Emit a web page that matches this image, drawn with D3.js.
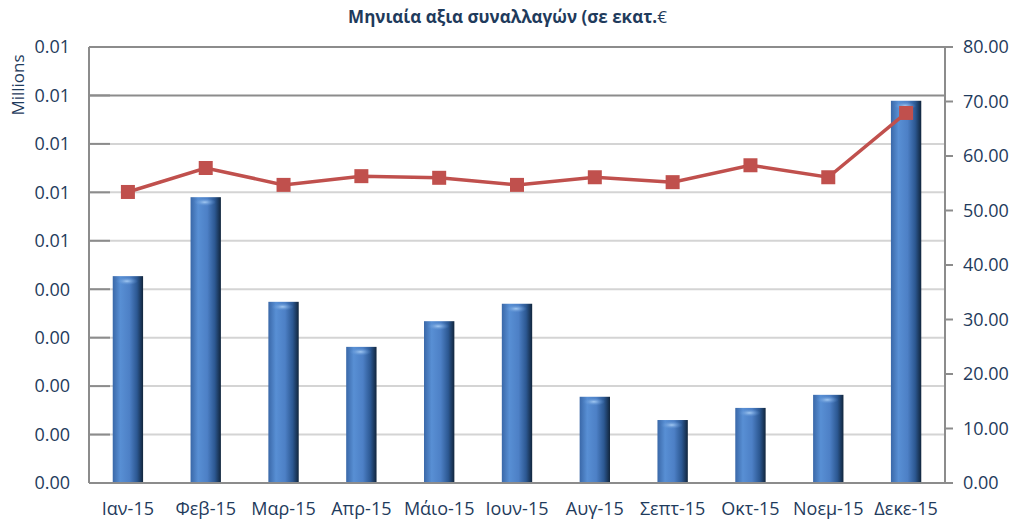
<!DOCTYPE html>
<html>
<head>
<meta charset="utf-8">
<script src="https://cdn.jsdelivr.net/npm/d3@7"></script>
<style>
  body { margin: 0; background: #fff; }
  svg { display: block; font-family: "Open Sans", "Noto Sans", sans-serif; }
  .tick-label { fill: #1f3b5c; font-size: 18px; }
</style>
</head>
<body>
<script>
const months = ["Ιαν-15","Φεβ-15","Μαρ-15","Απρ-15","Μάιο-15","Ιουν-15","Αυγ-15","Σεπτ-15","Οκτ-15","Νοεμ-15","Δεκε-15"];
const barValues = [0.00427, 0.00590, 0.00374, 0.00281, 0.00334, 0.00370, 0.00178, 0.00130, 0.00155, 0.00182, 0.00789];
const lineValues = [53.4, 57.8, 54.7, 56.3, 56.0, 54.7, 56.1, 55.2, 58.3, 56.1, 67.9];
const leftTicks = [0, 0.001, 0.002, 0.003, 0.004, 0.005, 0.006, 0.007, 0.008, 0.009];
const leftTickLabels = ["0.00","0.00","0.00","0.00","0.00","0.01","0.01","0.01","0.01","0.01"];
const rightTicks = [0, 10, 20, 30, 40, 50, 60, 70, 80];
const rightTickLabels = ["0.00","10.00","20.00","30.00","40.00","50.00","60.00","70.00","80.00"];

const width = 1015, height = 524;
const margin = {top: 47, right: 70, bottom: 41, left: 89};
const innerW = width - margin.left - margin.right,
      innerH = height - margin.top - margin.bottom;

let svg = d3.select("body").append("svg").attr("width", width).attr("height", height);

let defs = svg.append("defs");
let grad = defs.append("linearGradient").attr("id", "barGrad")
    .attr("x1", "0%").attr("x2", "100%").attr("y1", "0%").attr("y2", "0%");
[["0%","#3a68a8"],["25%","#588fd4"],["55%","#4d80c6"],["80%","#2c5892"],["100%","#11253c"]]
    .forEach(s => grad.append("stop").attr("offset", s[0]).attr("stop-color", s[1]));
let capGrad = defs.append("radialGradient").attr("id", "capGrad");
capGrad.append("stop").attr("offset", "0%").attr("stop-color", "#a3c9f2");
capGrad.append("stop").attr("offset", "100%").attr("stop-color", "#5a8fd2").attr("stop-opacity", 0);

const x = d3.scaleBand().domain(months).range([0, innerW]).paddingInner(0.61).paddingOuter(0.305);
const yL = d3.scaleLinear().domain([0, 0.009]).range([innerH, 0]);
const yR = d3.scaleLinear().domain([0, 80]).range([innerH, 0]);

let g = svg.append("g").attr("transform", `translate(${margin.left},${margin.top})`);

// gridlines from left axis
g.selectAll(".grid").data(leftTicks).enter().append("line")
    .attr("x1", 0).attr("x2", innerW)
    .attr("y1", d => yL(d)).attr("y2", d => yL(d))
    .attr("stroke", (d, i) => i >= 8 ? "#8c8c8c" : "#d4d4d4")
    .attr("stroke-width", 2);

// left inner ticks
g.selectAll(".ltick").data(leftTicks).enter().append("line")
    .attr("x1", 0).attr("x2", 21)
    .attr("y1", d => yL(d)).attr("y2", d => yL(d))
    .attr("stroke", "#8c8c8c").attr("stroke-width", 2);

// bars
let bars = g.selectAll(".bar").data(barValues).enter().append("g");
bars.append("rect")
    .attr("x", (d, i) => x(months[i]))
    .attr("y", d => yL(d))
    .attr("width", x.bandwidth())
    .attr("height", d => innerH - yL(d))
    .attr("fill", "url(#barGrad)");
bars.append("ellipse")
    .attr("cx", (d, i) => x(months[i]) + x.bandwidth() / 2 - 1)
    .attr("cy", d => yL(d) + 5)
    .attr("rx", x.bandwidth() / 2 - 4)
    .attr("ry", 4)
    .attr("fill", "url(#capGrad)");

// axes lines
g.append("line").attr("x1", 0).attr("x2", 0).attr("y1", 0).attr("y2", innerH)
    .attr("stroke", "#8c8c8c").attr("stroke-width", 2);
g.append("line").attr("x1", innerW).attr("x2", innerW).attr("y1", 0).attr("y2", innerH)
    .attr("stroke", "#8c8c8c").attr("stroke-width", 2);
g.append("line").attr("x1", 0).attr("x2", innerW).attr("y1", innerH).attr("y2", innerH)
    .attr("stroke", "#8c8c8c").attr("stroke-width", 2);

// right outer ticks
g.selectAll(".rtick").data(rightTicks).enter().append("line")
    .attr("x1", innerW).attr("x2", innerW + 8)
    .attr("y1", d => yR(d)).attr("y2", d => yR(d))
    .attr("stroke", "#8c8c8c").attr("stroke-width", 2);

// line series
const line = d3.line().x((d, i) => x(months[i]) + x.bandwidth() / 2).y(d => yR(d));
g.append("path").datum(lineValues)
    .attr("d", line).attr("fill", "none")
    .attr("stroke", "#c0504d").attr("stroke-width", 3.5);
g.selectAll(".marker").data(lineValues).enter().append("rect")
    .attr("x", (d, i) => x(months[i]) + x.bandwidth() / 2 - 7)
    .attr("y", d => yR(d) - 7)
    .attr("width", 14).attr("height", 14)
    .attr("fill", "#c0504d");

// tick labels
g.selectAll(".llab").data(leftTicks).enter().append("text")
    .attr("class", "tick-label")
    .attr("x", -19).attr("y", d => yL(d)).attr("dy", "0.35em")
    .attr("text-anchor", "end")
    .text((d, i) => leftTickLabels[i]);
g.selectAll(".rlab").data(rightTicks).enter().append("text")
    .attr("class", "tick-label")
    .attr("x", innerW + 18).attr("y", d => yR(d)).attr("dy", "0.35em")
    .text((d, i) => rightTickLabels[i]);
g.selectAll(".xlab").data(months).enter().append("text")
    .attr("class", "tick-label")
    .attr("x", d => x(d) + x.bandwidth() / 2).attr("y", innerH + 26)
    .attr("dy", "0.35em").attr("text-anchor", "middle")
    .text(d => d);

// axis title
svg.append("text")
    .attr("transform", "translate(18,85) rotate(-90)")
    .attr("text-anchor", "middle").attr("dy", "0.35em")
    .attr("fill", "#1f3b5c").attr("font-size", "17px")
    .text("Millions");

// chart title
let title = svg.append("text")
    .attr("x", width / 2).attr("y", 17).attr("dy", "0.35em")
    .attr("text-anchor", "middle")
    .attr("fill", "#1f3b5c").attr("font-size", "17px");
title.append("tspan").attr("font-weight", "bold").text("Μηνιαία αξια συναλλαγών (σε εκατ.");
title.append("tspan").text("€");
</script>
</body>
</html>
